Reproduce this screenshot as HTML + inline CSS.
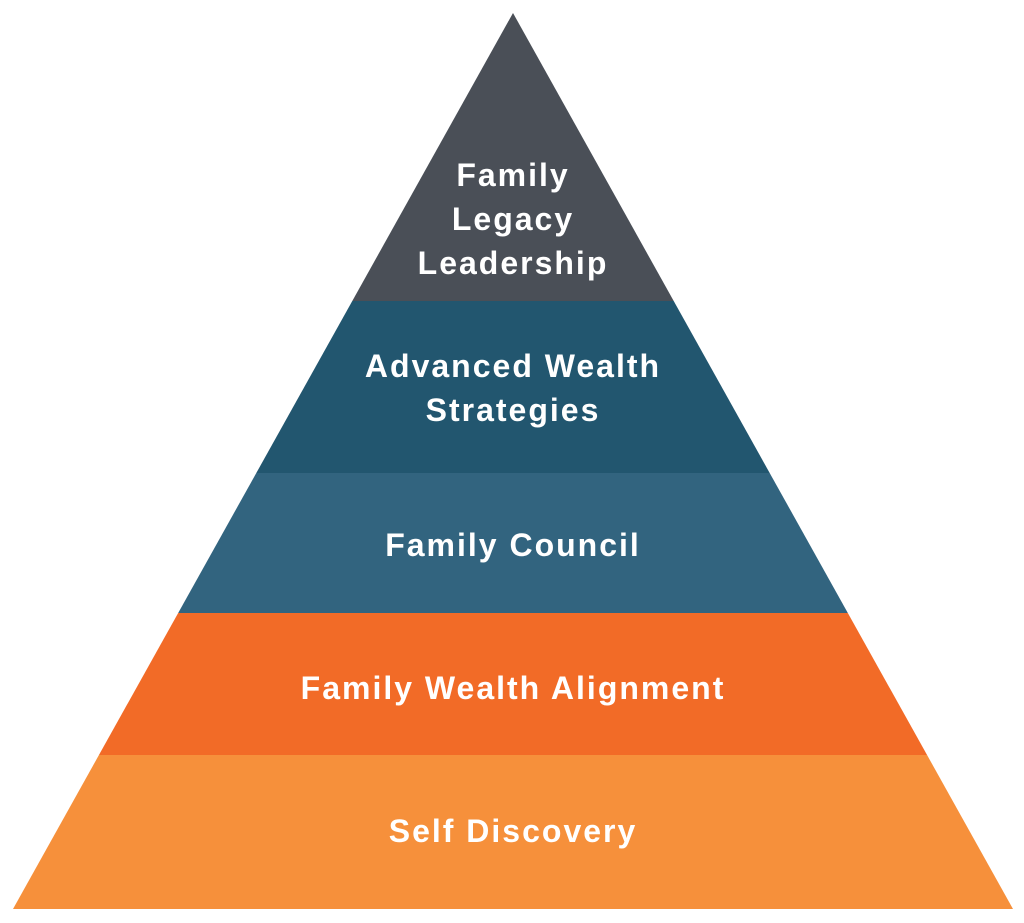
<!DOCTYPE html>
<html><head><meta charset="utf-8"><style>
html,body{margin:0;padding:0;background:#fff;}
svg{display:block;}
text{font-family:"Liberation Sans",Arial,sans-serif;font-weight:bold;fill:#fff;font-size:32px;letter-spacing:2px;text-anchor:middle;}
</style></head><body>
<svg width="1024" height="923" viewBox="0 0 1024 923">
<defs><clipPath id="c"><polygon points="513,13 1013,909 13,909"/></clipPath></defs>
<g clip-path="url(#c)">
<rect x="0" y="0" width="1024" height="301" fill="#4a4f57"/>
<rect x="0" y="301" width="1024" height="172" fill="#22566f"/>
<rect x="0" y="473" width="1024" height="140" fill="#32647f"/>
<rect x="0" y="613" width="1024" height="142" fill="#f26b27"/>
<rect x="0" y="755" width="1024" height="160" fill="#f6903b"/>
</g>
<text x="513" y="186">Family</text>
<text x="513" y="230">Legacy</text>
<text x="513" y="274">Leadership</text>
<text x="513" y="377">Advanced Wealth</text>
<text x="513" y="421">Strategies</text>
<text x="513" y="556">Family Council</text>
<text x="513" y="699">Family Wealth Alignment</text>
<text x="513" y="842">Self Discovery</text>
</svg>
</body></html>
